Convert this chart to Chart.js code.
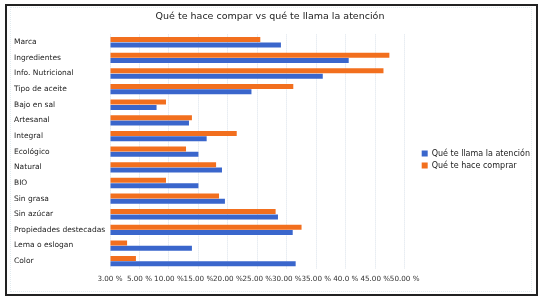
<!DOCTYPE html>
<html>
<head>
<meta charset="utf-8">
<script src="https://cdn.jsdelivr.net/npm/chart.js@4/dist/chart.umd.min.js"></script>
<style>
  html, body { margin: 0; padding: 0; background: #fff; }
  #wrap { position: relative; width: 548px; height: 300px; }
  #frame { position: absolute; left: 5px; top: 4px; width: 529px; height: 288px; border: 2px solid #222; pointer-events: none; }
  #inner { position: absolute; left: 10px; top: 7px; width: 520px; height: 283px; border: 1px dotted #e3ecf0; pointer-events: none; }
  canvas { position: absolute; left: 0; top: 0; }
</style>
</head>
<body>
<div id="wrap">
  <canvas id="c" width="548" height="300"></canvas>
  <div id="inner"></div>
  <div id="frame"></div>
</div>
<script>
const chartTitle = "Qué te hace compar vs qué te llama la atención";
const categories = ["Marca", "Ingredientes", "Info. Nutricional", "Tipo de aceite", "Bajo en sal", "Artesanal", "Integral", "Ecológico", "Natural", "BIO", "Sin grasa", "Sin azúcar", "Propiedades destecadas", "Lema o eslogan", "Color"];
const seriesNames = ["Qué te hace comprar", "Qué te llama la atención"];
const hacerComprar = [25.5, 47.4, 46.4, 31.1, 9.5, 13.9, 21.5, 12.9, 18.0, 9.5, 18.5, 28.1, 32.5, 2.9, 4.4];
const llamaAtencion = [29.0, 40.5, 36.1, 24.0, 7.9, 13.4, 16.4, 15.0, 19.0, 15.0, 19.5, 28.5, 31.0, 13.9, 31.5];
const tickLabels = ["3.00 %", "5.00 %", "10.00 %", "15.00 %", "20.00 %", "25.00 %", "30.00 %", "35.00 %", "40.0 %", "45.00 %", "50.00 %"];

const LEGEND_GAP = 13;
const LEGEND_DROP = 12;
const TITLE_SHIFT = -7;
const boxShift = {
  id: 'boxShift',
  beforeInit(chart) {
    const lg = chart.legend;
    if (lg) {
      const f = lg.fit.bind(lg);
      lg.fit = function () { f(); this.width += LEGEND_GAP; };
      const d = lg.draw.bind(lg);
      lg.draw = function () { const ctx = this.ctx; ctx.save(); ctx.translate(LEGEND_GAP, LEGEND_DROP); d(); ctx.restore(); };
    }
    const tb = chart.titleBlock;
    if (tb) {
      const dt = tb.draw.bind(tb);
      tb.draw = function () { const ctx = this.ctx; ctx.save(); ctx.translate(TITLE_SHIFT, 1); dt(); ctx.restore(); };
    }
  }
};

new Chart(document.getElementById('c'), {
  type: 'bar',
  data: {
    labels: categories,
    datasets: [
      { label: seriesNames[0], data: hacerComprar, backgroundColor: '#f26f1e', borderWidth: 0 },
      { label: seriesNames[1], data: llamaAtencion, backgroundColor: '#3a66cc', borderWidth: 0 }
    ]
  },
  options: {
    indexAxis: 'y',
    responsive: false,
    animation: false,
    devicePixelRatio: 1,
    datasets: { bar: { categoryPercentage: 0.68, barPercentage: 0.94 } },
    layout: { padding: { left: 14, right: 8, top: 5, bottom: 10 } },
    plugins: {
      title: {
        display: true, text: chartTitle, color: '#222',
        font: { family: 'DejaVu Sans', size: 9.5, weight: 'normal' },
        padding: { top: 5, bottom: 13 }
      },
      legend: {
        position: 'right',
        labels: {
          color: '#222', boxWidth: 6, boxHeight: 6, padding: 4,
          font: { family: 'DejaVu Sans', size: 8 },
          sort: (a, b) => b.datasetIndex - a.datasetIndex
        }
      },
      tooltip: { enabled: false }
    },
    scales: {
      x: {
        min: 0, max: 50,
        ticks: {
          stepSize: 5, autoSkip: false, maxRotation: 0, padding: 6,
          color: '#333', font: { family: 'DejaVu Sans', size: 7.2 },
          callback: (v, i) => tickLabels[i]
        },
        grid: { color: '#d9e1ea', drawTicks: false },
        border: { display: false, dash: [1, 1] },
        afterFit: (s) => { s.height = 21; }
      },
      y: {
        ticks: {
          crossAlign: 'far', color: '#222', padding: 4,
          font: { family: 'DejaVu Sans', size: 7.5 }
        },
        grid: { display: false },
        border: { display: false },
        afterFit: (s) => { s.width = 96; }
      }
    }
  },
  plugins: [boxShift]
});
</script>
</body>
</html>
